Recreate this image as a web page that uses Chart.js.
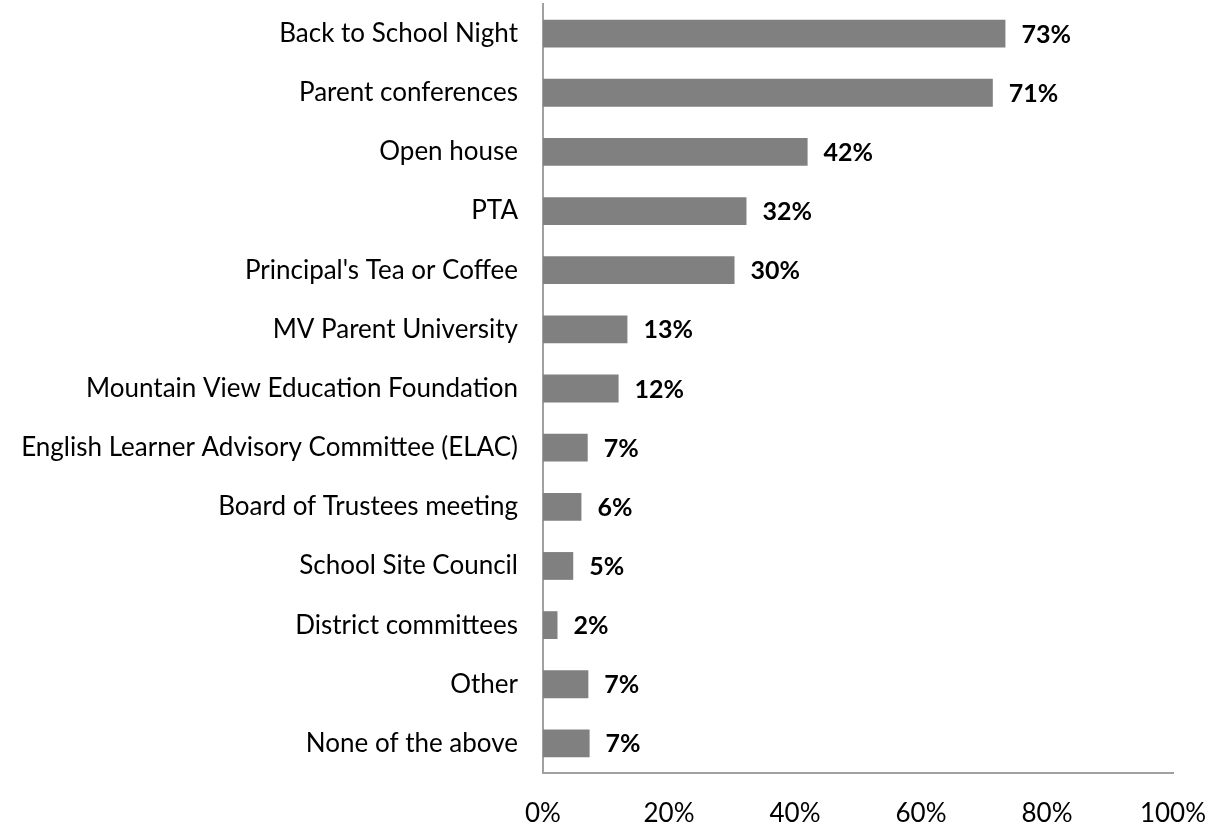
<!DOCTYPE html>
<html>
<head>
<meta charset="utf-8">
<script src="https://cdn.jsdelivr.net/npm/chart.js@4"></script>
<style>
html,body{margin:0;padding:0;background:#fff;}
#wrap{width:1217px;height:824px;position:relative;}
</style>
</head>
<body>
<div id="wrap"><canvas id="c" width="1217" height="824"></canvas></div>
<script>
const categories = [
  "Back to School Night",
  "Parent conferences",
  "Open house",
  "PTA",
  "Principal's Tea or Coffee",
  "MV Parent University",
  "Mountain View Education Foundation",
  "English Learner Advisory Committee (ELAC)",
  "Board of Trustees meeting",
  "School Site Council",
  "District committees",
  "Other",
  "None of the above"
];
const values = [73.4, 71.4, 42.0, 32.3, 30.4, 13.4, 12.0, 7.1, 6.1, 4.8, 2.3, 7.2, 7.4];
const xTicks = [0, 20, 40, 60, 80, 100];

const valueLabels = {
  id: 'valueLabels',
  afterDatasetsDraw(chart) {
    const ctx = chart.ctx;
    const meta = chart.getDatasetMeta(0);
    ctx.save();
    ctx.font = 'bold 25px Lato';
    ctx.fillStyle = '#000';
    ctx.textAlign = 'left';
    ctx.textBaseline = 'middle';
    meta.data.forEach((bar, i) => {
      ctx.fillText(Math.round(values[i]) + '%', bar.x + 16, bar.y + 1);
    });
    ctx.restore();
  }
};

function zeroPad(scale) {
  scale.paddingTop = 0; scale.paddingBottom = 0;
  scale.paddingLeft = 0; scale.paddingRight = 0;
}

new Chart(document.getElementById('c'), {
  type: 'bar',
  data: {
    labels: categories,
    datasets: [{
      data: values,
      backgroundColor: '#808080',
      borderWidth: 0,
      categoryPercentage: 1.0,
      barPercentage: 0.47
    }]
  },
  options: {
    indexAxis: 'y',
    responsive: false,
    animation: false,
    layout: { padding: { top: 4, right: 44, left: 0, bottom: 0 } },
    plugins: { legend: { display: false }, tooltip: { enabled: false } },
    scales: {
      x: {
        min: 0, max: 100,
        afterBuildTicks(scale) { scale.ticks = xTicks.map(v => ({ value: v })); },
        afterFit(scale) { scale.height = 51; zeroPad(scale); },
        grid: { display: false, drawTicks: false },
        border: { display: true, color: '#a0a0a0', width: 2 },
        ticks: {
          padding: 25,
          color: '#000',
          font: { family: 'Lato', size: 26 },
          callback: v => v + '%',
          maxRotation: 0
        }
      },
      y: {
        afterFit(scale) { scale.width = 543; zeroPad(scale); },
        grid: { display: false, drawTicks: false },
        border: { display: true, color: '#a0a0a0', width: 2 },
        ticks: {
          padding: 25,
          color: '#000',
          font: { family: 'Lato', size: 26 },
          autoSkip: false
        }
      }
    }
  },
  plugins: [valueLabels]
});
</script>
</body>
</html>
